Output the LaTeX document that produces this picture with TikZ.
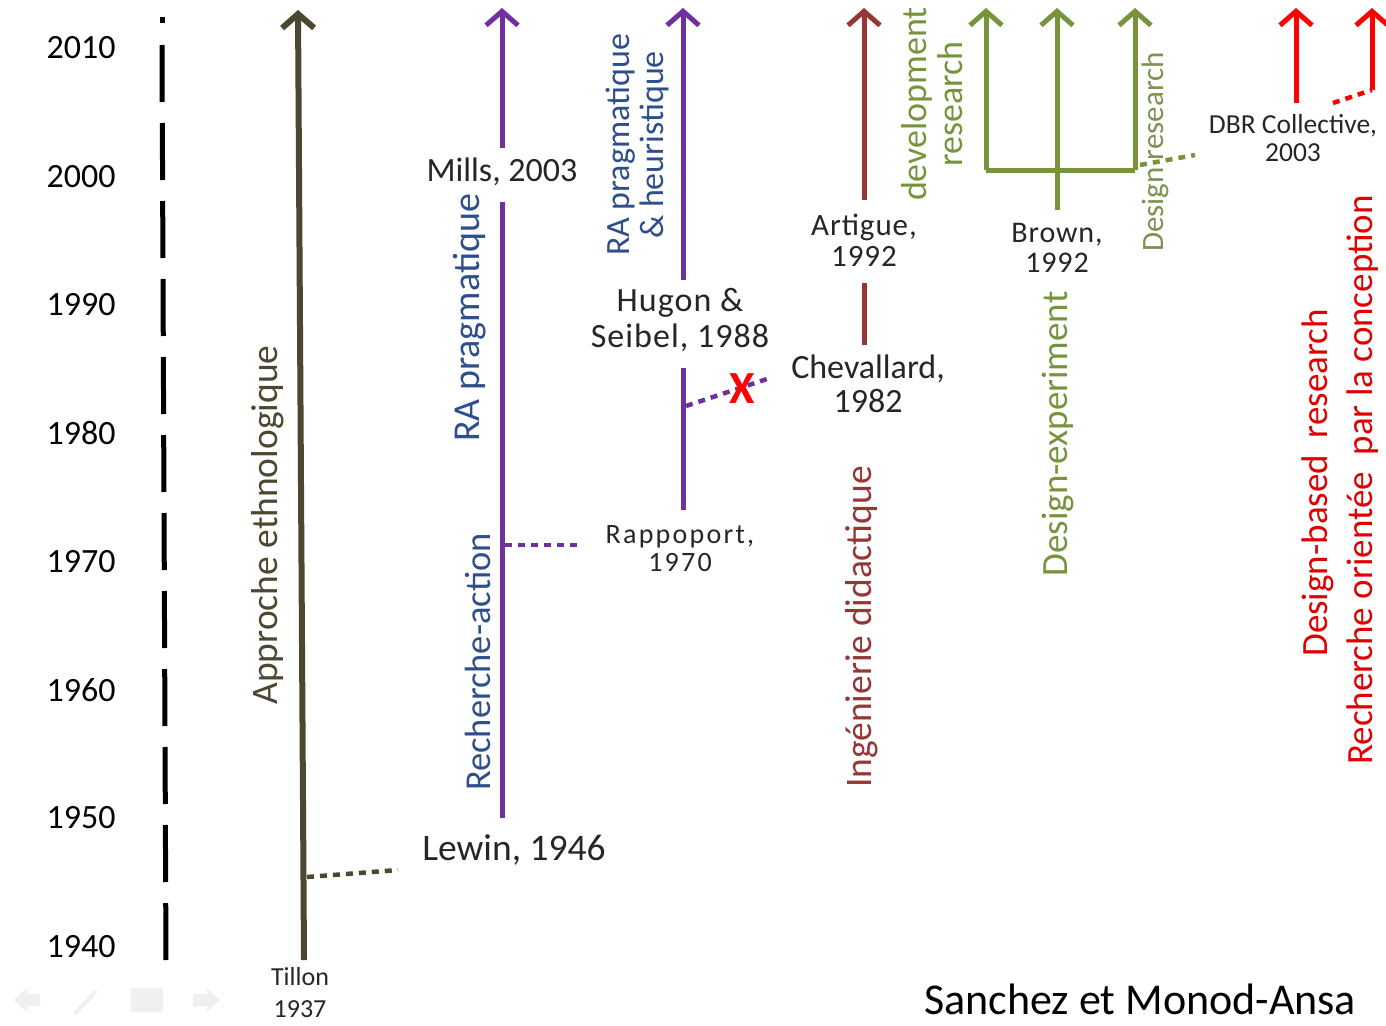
\documentclass[tikz,border=0pt]{standalone}
\usepackage{fontspec}
\setmainfont{Carlito}
\usetikzlibrary{arrows.meta}
\definecolor{olivedk}{HTML}{4B4731}
\definecolor{purp}{HTML}{7030A0}
\definecolor{bluetxt}{HTML}{2E4F8C}
\definecolor{dred}{HTML}{953735}
\definecolor{grn}{HTML}{77933C}
\definecolor{grntxt}{HTML}{7F9152}
\definecolor{rred}{HTML}{FF0000}
\definecolor{redtxt}{HTML}{E00000}
\definecolor{navgray}{HTML}{F0F0F0}
\newcommand{\fs}[1]{\fontsize{#1pt}{1.0\dimexpr #1pt\relax}\selectfont}
\tikzset{
  x=1pt, y=-1pt,
  yearlbl/.style={font=\fs{34}, text=black, inner sep=0pt},
  ref/.style={font=\fs{34}, align=center, text=black!85, inner sep=0pt},
  refs/.style={font=\fs{28}, align=center, text=black!85, inner sep=0pt},
  vlbl/.style={rotate=90, inner sep=0pt, align=center, font=\fs{37}},
  tip/.style={-{Straight Barb[length=14pt,width=32pt]}},
  dotc/.style={line width=4.5pt, dash pattern=on 7pt off 6pt},
}
\begin{document}
\begin{tikzpicture}
\useasboundingbox (0,0) rectangle (1386,1025);
\clip (0,0) rectangle (1386,1025);
\fill[white] (0,0) rectangle (1386,1025);

% faint slide navigation icons
\fill[navgray] (14,1000) -- (27,988) -- (27,994) -- (40,994) -- (40,1006) -- (27,1006) -- (27,1012) -- cycle;
\fill[navgray, rounded corners=1pt] (73,1013) -- (95,989) -- (98,992) -- (76,1015) -- cycle;
\fill[navgray, rounded corners=2pt] (131,988) rectangle (163,1012);
\fill[navgray] (220,1000) -- (207,988) -- (207,994) -- (193,994) -- (193,1006) -- (207,1006) -- (207,1012) -- cycle;

% year axis
\foreach \yr/\yy in {2010/48,2000/177,1990/305,1980/433,1970/562,1960/690,1950/818,1940/947}
  \node[yearlbl] (y\yr) at (81,\yy) {\yr};
\coordinate (axdot1) at (162,17);
\coordinate (axdot2) at (162,23);
\coordinate (axtop) at (162,45);
\coordinate (axbot) at (166,965);
\draw[line width=5pt] (axdot1) -- (axdot2);
\draw[line width=5pt, dash pattern=on 57pt off 21pt] (axtop) -- (axbot);

% ethnologique
\node[refs, font=\fs{26}] (tillon) at (300,993) {Tillon\\[6pt]1937};
\coordinate (eb) at (304,960);
\coordinate (et) at (298,10);
\draw[olivedk, line width=6pt, tip] (eb) -- (et);
\node[vlbl, text=olivedk, font=\fs{37.5}] (ethno) at (268,525) {Approche ethnologique};
\node[ref, font=\fs{37.5}] (lewin) at (514,850) {Lewin, 1946};
\coordinate (eo) at (307,877);
\coordinate (eoe) at (398,870);
\draw[olivedk, dotc] (eo) -- (eoe);

% recherche-action
\coordinate (rab) at (502,818);
\node[ref] (mills) at (502,172) {Mills, 2003};
\coordinate (rat) at (502,8);
\draw[purp, line width=5pt] (rab) -- (502,202);
\draw[purp, line width=5pt, tip] (502,148) -- (rat);
\node[vlbl, text=bluetxt, font=\fs{36.5}] (rach) at (478,662) {Recherche-action};
\node[vlbl, text=bluetxt, font=\fs{38}] (rapr) at (470,318) {RA pragmatique};
\node[refs, font=\fs{28}\addfontfeatures{LetterSpace=8}] (rapp) at (680,549) {Rappoport,\\1970};
\coordinate (rao) at (505,545);
\coordinate (raoe) at (583,545);
\draw[purp, dotc] (rao) -- (raoe);

% RA pragmatique & heuristique
\coordinate (hb) at (683,510);
\node[ref, font=\fs{34}\addfontfeatures{LetterSpace=3}] (hugon) at (680,320) {Hugon \&\\[2pt]Seibel, 1988};
\coordinate (ht) at (683,8);
\draw[purp, line width=5pt] (hb) -- (683,368);
\draw[purp, line width=5pt, tip] (683,280) -- (ht);
\node[vlbl, text=bluetxt, font=\fs{34}] (raph) at (637,145) {RA pragmatique\\\& heuristique};
\node[ref] (cheva) at (868,384) {Chevallard,\\1982};
\coordinate (ho) at (686,406);
\coordinate (hoe) at (770,378);
\draw[purp, dotc] (ho) -- (hoe);
\node[text=rred, font=\fs{46}\bfseries, inner sep=0pt] (cross) at (742,389) {X};

% ingenierie didactique
\node[ref, font=\fs{31}\addfontfeatures{LetterSpace=3}] (artig) at (864,240) {Artigue,\\1992};
\coordinate (ib) at (864,345);
\coordinate (it) at (864,8);
\draw[dred, line width=5pt] (ib) -- (864,283);
\draw[dred, line width=5pt, tip] (864,200) -- (it);
\node[vlbl, text=dred, font=\fs{37.5}] (ingd) at (862,627) {Ingénierie didactique};

% design experiment
\node[vlbl, text=grn, font=\fs{36}] (devr) at (932,104) {development\\research};
\coordinate (gl) at (986,170);
\coordinate (gr) at (1135,170);
\coordinate (gm) at (1057,210);
\draw[grn, line width=5pt] (gl) -- (gr);
\draw[grn, line width=5pt, tip] (gl) -- (986,8);
\draw[grn, line width=5pt, tip] (gm) -- (1057,8);
\draw[grn, line width=5pt, tip] (gr) -- (1135,8);
\node[ref, font=\fs{30}\addfontfeatures{LetterSpace=3}] (brown) at (1057,248) {Brown,\\1992};
\node[vlbl, text=grn, font=\fs{37}] (dexp) at (1058,434) {Design-experiment};
\node[vlbl, text=grntxt, font=\fs{31}] (dres) at (1155,152) {Design research};
\coordinate (go) at (1140,165);
\coordinate (goe) at (1195,155);
\draw[grn, dotc] (go) -- (goe);

% DBR
\node[refs, font=\fs{27.5}] (dbr) at (1293,138) {DBR Collective,\\2003};
\coordinate (d1b) at (1296,103);
\coordinate (d2b) at (1372,90);
\draw[rred, line width=5pt, tip] (d1b) -- (1296,8);
\draw[rred, line width=5pt, tip] (d2b) -- (1372,8);
\coordinate (dd) at (1333,103);
\draw[rred, dotc] (dd) -- (d2b);
\node[vlbl, text=redtxt, font=\fs{37}] (dbrl) at (1318,483) {Design-based\ \ research};
\node[vlbl, text=redtxt, font=\fs{37}] (roc) at (1363,480) {Recherche orientée\ \ par la conception};

% source
\node[anchor=west, font=\fs{44}, inner sep=0pt] (src) at (924,999) {Sanchez et Monod-Ansa};
\end{tikzpicture}
\end{document}
